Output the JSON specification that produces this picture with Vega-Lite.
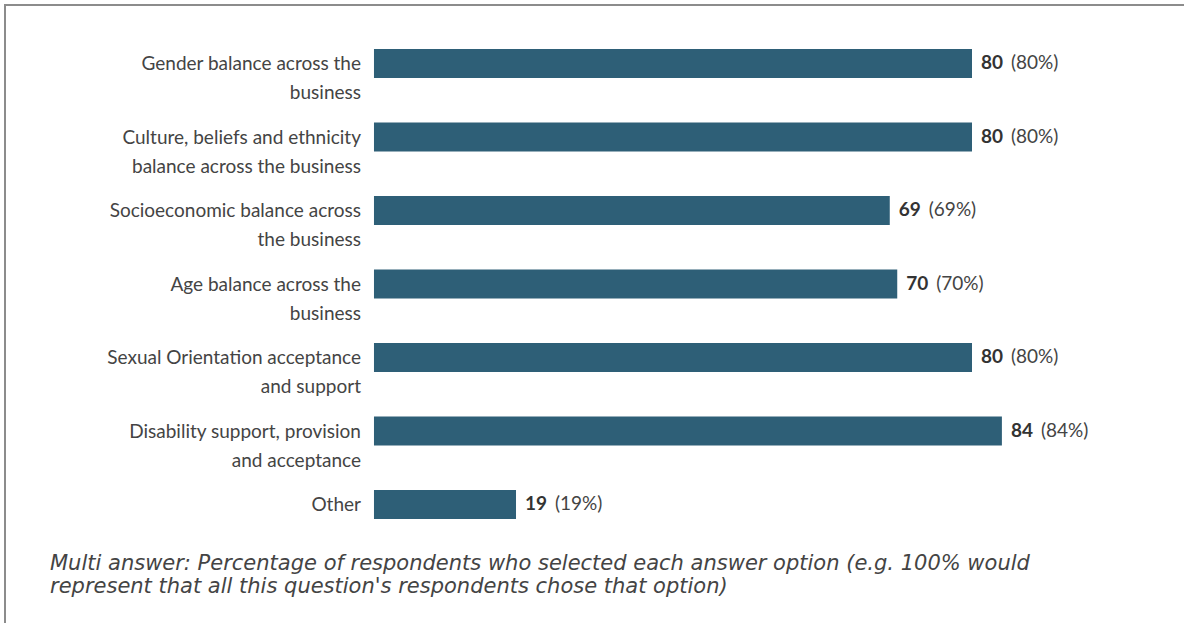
{
  "$schema": "https://vega.github.io/schema/vega-lite/v6.json",
  "width": 1200,
  "height": 640,
  "padding": {"left": 5, "top": 5, "right": 0, "bottom": 0},
  "autosize": {"type": "pad"},
  "background": "white",
  "config": {
    "view": {"stroke": "#8c8c8c", "strokeWidth": 2},
    "axis": {"disable": true}
  },
  "datasets": {
    "bars": [
      {"pos": 1, "label": "Gender balance across the\u00a0\u00a0\nbusiness", "value": 80, "pct": "(80%)"},
      {"pos": 2, "label": "Culture, beliefs and ethnicity\u00a0\u00a0\nbalance across the business", "value": 80, "pct": "(80%)"},
      {"pos": 3, "label": "Socioeconomic balance across\u00a0\u00a0\nthe business", "value": 69, "pct": "(69%)"},
      {"pos": 4, "label": "Age balance across the\u00a0\u00a0\nbusiness", "value": 70, "pct": "(70%)"},
      {"pos": 5, "label": "Sexual Orientation acceptance\u00a0\u00a0\nand support", "value": 80, "pct": "(80%)"},
      {"pos": 6, "label": "Disability support, provision\u00a0\u00a0\nand acceptance", "value": 84, "pct": "(84%)"},
      {"pos": 7, "label": "Other", "value": 19, "pct": "(19%)"}
    ],
    "note": [
      {"text": "Multi answer: Percentage of respondents who selected each answer option (e.g. 100% would\nrepresent that all this question's respondents chose that option)"}
    ]
  },
  "layer": [
    {
      "data": {"name": "bars"},
      "mark": {"type": "bar", "orient": "horizontal", "size": 29, "color": "#2e5f77"},
      "encoding": {
        "x": {"field": "value", "type": "quantitative", "scale": {"domain": [-49.36, 111.17], "nice": false, "zero": false, "padding": 0}, "axis": null},
        "x2": {"datum": 0},
        "y": {"field": "pos", "type": "quantitative", "scale": {"domain": [0.2041, 8.9116], "nice": false, "zero": false, "reverse": true, "padding": 0}, "axis": null}
      }
    },
    {
      "data": {"name": "bars"},
      "mark": {"type": "text", "align": "right", "baseline": "alphabetic", "dy": 7, "lineBreak": "\n", "lineHeight": 29, "font": "Lato", "fontSize": 19, "color": "#444444"},
      "encoding": {
        "x": {"datum": -1.74, "type": "quantitative"},
        "y": {"field": "pos", "type": "quantitative"},
        "text": {"field": "label"}
      }
    },
    {
      "data": {"name": "bars"},
      "mark": {"type": "text", "align": "left", "baseline": "middle", "dx": 9, "font": "Lato", "fontWeight": "bold", "fontSize": 19, "color": "#333333"},
      "encoding": {
        "x": {"field": "value", "type": "quantitative"},
        "y": {"field": "pos", "type": "quantitative"},
        "text": {"field": "value"}
      }
    },
    {
      "data": {"name": "bars"},
      "mark": {"type": "text", "align": "left", "baseline": "middle", "dx": 39, "font": "Lato", "fontSize": 19, "color": "#444444"},
      "encoding": {
        "x": {"field": "value", "type": "quantitative"},
        "y": {"field": "pos", "type": "quantitative"},
        "text": {"field": "pct"}
      }
    },
    {
      "data": {"name": "note"},
      "mark": {"type": "text", "align": "left", "baseline": "alphabetic", "lineBreak": "\n", "lineHeight": 23, "font": "DejaVu Sans", "fontStyle": "italic", "fontSize": 21, "color": "#444444"},
      "encoding": {
        "x": {"datum": -43.34, "type": "quantitative"},
        "y": {"datum": 7.891, "type": "quantitative"},
        "text": {"field": "text"}
      }
    }
  ]
}
